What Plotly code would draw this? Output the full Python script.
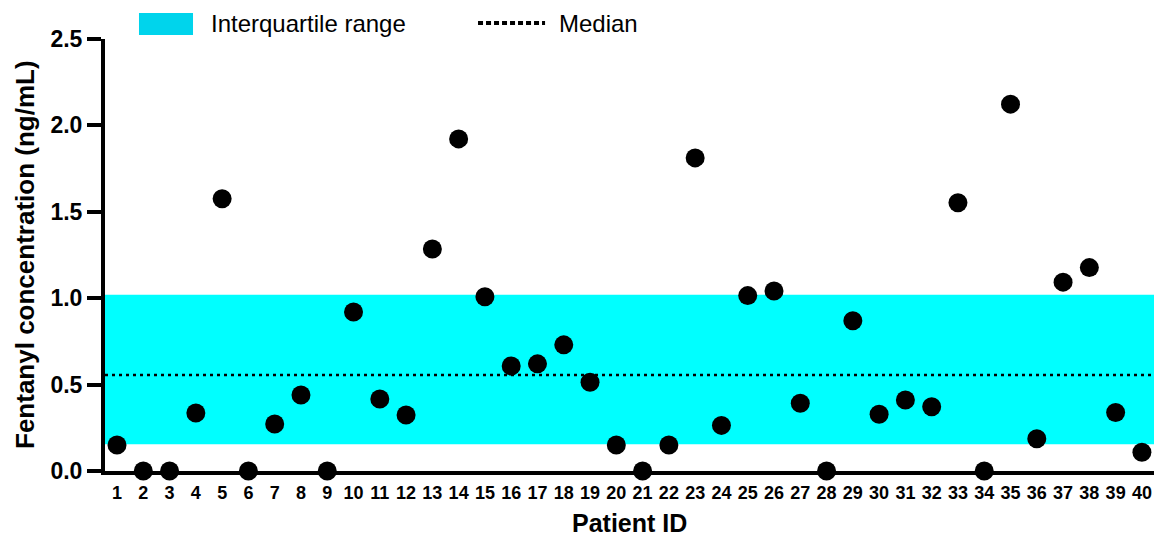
import plotly.graph_objects as go

patients = list(range(1, 41))
concentration = [0.15, 0.0, 0.0, 0.336, 1.575, 0.0, 0.272, 0.44, 0.0, 0.92,
                 0.417, 0.324, 1.285, 1.922, 1.008, 0.608, 0.62, 0.73, 0.514, 0.15,
                 0.0, 0.15, 1.812, 0.264, 1.015, 1.042, 0.392, 0.0, 0.87, 0.328,
                 0.411, 0.372, 1.552, 0.0, 2.123, 0.187, 1.093, 1.177, 0.338, 0.108]
iqr_low = 0.155
iqr_high = 1.02
median = 0.556
y_ticks = [0.0, 0.5, 1.0, 1.5, 2.0, 2.5]

FONT = "Arial, Liberation Sans, sans-serif"

fig = go.Figure()
fig.add_trace(go.Scatter(
    x=patients, y=concentration, mode="markers",
    marker=dict(color="black", size=19),
    cliponaxis=False, showlegend=False,
))

# IQR band
fig.add_shape(type="rect", xref="paper", yref="y", x0=0, x1=1,
              y0=iqr_low, y1=iqr_high, fillcolor="#00FFFF",
              line=dict(width=0), layer="below")
# Median line
fig.add_shape(type="line", xref="paper", yref="y", x0=0, x1=1,
              y0=median, y1=median,
              line=dict(color="black", width=2.5, dash="3px,4px"), layer="above")

# Legend (custom)
fig.add_shape(type="rect", xref="paper", yref="paper",
              x0=0.0324, x1=0.0839, y0=1.009, y1=1.060,
              fillcolor="#00D4EC", line=dict(width=0))
fig.add_annotation(xref="paper", yref="paper", x=0.0991, y=1.035,
                   xanchor="left", yanchor="middle", showarrow=False,
                   text="Interquartile range",
                   font=dict(family=FONT, size=24, color="black"))
fig.add_shape(type="line", xref="paper", yref="paper",
              x0=0.3556, x1=0.4195, y0=1.037, y1=1.037,
              line=dict(color="black", width=4, dash="5px,3px"))
fig.add_annotation(xref="paper", yref="paper", x=0.4309, y=1.035,
                   xanchor="left", yanchor="middle", showarrow=False,
                   text="Median",
                   font=dict(family=FONT, size=24, color="black"))

# Axis titles
fig.add_annotation(xref="paper", yref="paper", x=0, y=0.5, xshift=-80,
                   textangle=-90, showarrow=False, xanchor="center", yanchor="middle",
                   text="<b>Fentanyl concentration (ng/mL)</b>",
                   font=dict(family=FONT, size=26, color="black"))
fig.add_annotation(xref="paper", yref="paper", x=0.5, y=0, yshift=-52,
                   showarrow=False, xanchor="center", yanchor="middle",
                   text="<b>Patient ID</b>",
                   font=dict(family=FONT, size=25, color="black"))

fig.update_layout(
    width=1154, height=537,
    margin=dict(l=105, r=0, t=39, b=66),
    plot_bgcolor="white", paper_bgcolor="white",
    font=dict(family=FONT, color="black"),
)
fig.update_xaxes(
    range=[0.543, 40.46], tickmode="array", tickvals=patients,
    ticktext=[f"<b>{p}</b>" for p in patients],
    tickfont=dict(family=FONT, size=18, color="black"),
    showgrid=False, zeroline=False, showline=True, linecolor="black",
    linewidth=4, ticks="", ticklabelstandoff=2,
)
fig.update_yaxes(
    range=[0, 2.5], tickmode="array", tickvals=y_ticks,
    ticktext=[f"<b>{v:.1f}</b>" for v in y_ticks],
    tickfont=dict(family=FONT, size=23, color="black"),
    showgrid=False, zeroline=False, showline=True, linecolor="black",
    linewidth=4, ticks="outside", ticklen=14, tickwidth=4, tickcolor="black",
)

fig.write_html(
    "out.html",
    config={"displayModeBar": False},
    post_script="document.body.style.margin='0';document.body.style.overflow='hidden';",
)
